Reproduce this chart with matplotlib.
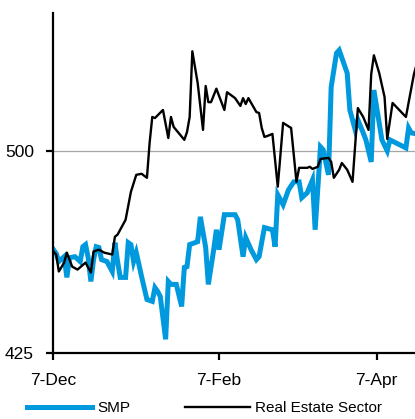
import matplotlib
matplotlib.use("Agg")
import matplotlib.pyplot as plt
import matplotlib.dates as mdates
from matplotlib.lines import Line2D
import numpy as np
import datetime as dt

plt.rcParams['font.family'] = ['Liberation Sans', 'DejaVu Sans']

start = dt.date(2018, 12, 7)

smp_days = [0, 1, 2, 4, 5, 6, 8, 10, 11, 12, 13, 14, 15, 16, 17, 18, 20, 22, 23, 24,
            25, 27, 28, 29, 30, 31, 32, 33, 35, 37, 38, 39, 40, 42, 43, 44, 46, 48, 49, 50,
            51, 53, 54, 55, 57, 58, 60, 61, 62, 64, 68, 69, 71, 72, 74, 76, 77, 79, 82, 83,
            84, 86, 88, 90, 92, 93, 95, 97, 98, 100, 101, 103, 104, 106, 107, 110, 111, 113, 114, 116,
            117, 119, 120, 123, 125, 126, 132, 133, 134, 136]
smp_vals = [463.2, 461.8, 458.8, 460.6, 452.9, 460.2, 460.6, 458.8, 464.3, 465.1,
            460.2, 451.4, 459.5, 464.3, 464.0, 459.5, 458.8, 455.1, 465.8, 458.8,
            452.9, 452.9, 465.8, 465.1, 458.8, 462.1, 457.7, 453.2, 444.7, 444.0,
            449.1, 447.7, 445.8, 429.9, 451.4, 450.3, 450.3, 442.1, 456.6, 456.9,
            465.1, 465.8, 466.2, 475.4, 464.0, 450.3, 463.2, 470.6, 463.2, 476.2,
            476.2, 474.3, 460.6, 467.7, 463.2, 459.5, 460.6, 471.4, 470.6, 464.3,
            483.6, 479.9, 485.4, 488.4, 488.4, 482.5, 484.3, 489.1, 470.6, 501.4,
            500.3, 491.0, 523.6, 536.2, 537.3, 528.8, 515.1, 507.7, 511.4, 506.6,
            504.0, 495.8, 522.5, 504.0, 499.9, 504.0, 501.0, 508.4, 506.6, 506.2]

re_days = [0, 1, 2, 4, 5, 7, 9, 12, 14, 15, 17, 19, 22, 23, 24, 27, 29, 31, 33, 35,
           36, 37, 38, 41, 43, 44, 45, 49, 50, 51, 52, 54, 56, 57, 58, 59, 61, 64, 65, 68,
           70, 71, 72, 73, 76, 77, 78, 79, 80, 82, 84, 86, 89, 91, 92, 95, 96, 97, 99, 100,
           103, 104, 105, 107, 108, 110, 112, 114, 116, 118, 119, 120, 122, 124, 125, 127, 132, 135, 136]
re_vals = [462.5, 461.4, 455.1, 458.4, 462.1, 456.9, 455.8, 458.4, 454.7, 462.5,
           463.2, 462.1, 461.4, 468.0, 468.8, 474.3, 484.7, 491.0, 491.4, 489.9,
           502.9, 512.5, 512.1, 515.1, 504.7, 512.5, 508.8, 504.0, 506.9, 512.5,
           536.9, 525.1, 507.7, 524.0, 518.0, 518.0, 523.0, 515.1, 521.7, 519.5,
           516.6, 519.5, 517.3, 519.5, 514.3, 514.0, 508.4, 505.1, 505.4, 506.2,
           486.6, 510.3, 508.4, 488.4, 493.6, 493.6, 494.0, 493.2, 494.0, 496.9,
           497.3, 495.8, 489.9, 492.9, 495.4, 492.9, 488.4, 515.8, 512.5, 507.7,
           528.4, 535.4, 528.8, 519.9, 504.3, 517.7, 512.5, 528.4, 532.0]

tick_dates = [dt.date(2018, 12, 7), dt.date(2019, 2, 7), dt.date(2019, 4, 7)]
y_ticks = [425, 500]

smp_x = [start + dt.timedelta(days=d) for d in smp_days]
re_x = [start + dt.timedelta(days=d) for d in re_days]

BLUE = '#0099DD'

fig = plt.figure(figsize=(4.15, 4.19), dpi=100)
ax = fig.add_axes([0.1289, 0.1587, 0.8711, 0.8095])

ax.axhline(500, color='#A6A6A6', lw=0.9, zorder=1)
ax.plot(smp_x, smp_vals, color=BLUE, lw=3.6, solid_joinstyle='miter', zorder=2)
ax.plot(re_x, re_vals, color='black', lw=1.7, zorder=3)

x0 = mdates.date2num(start)
ax.set_xlim(x0, x0 + 135.4)
ax.set_ylim(425, 551)

ax.set_xticks([mdates.date2num(d) for d in tick_dates])
ax.xaxis.set_major_formatter(mdates.DateFormatter('%-d-%b'))
ax.set_yticks(y_ticks)

for s in ['top', 'right']:
    ax.spines[s].set_visible(False)
for s in ['left', 'bottom']:
    ax.spines[s].set_linewidth(1.6)
    ax.spines[s].set_color('black')

ax.tick_params(axis='both', direction='out', length=5, width=1.6, labelsize=12.5, colors='black')
ax.tick_params(axis='x', pad=10)
ax.tick_params(axis='y', pad=9)

handles = [Line2D([], [], color=BLUE, lw=3.6), Line2D([], [], color='black', lw=1.7)]
fig.legend(handles, ['SMP', 'Real Estate Sector'], loc='center', bbox_to_anchor=(0.493, 0.026),
           ncol=2, frameon=False, fontsize=11, handlelength=4.25, handletextpad=0.35,
           columnspacing=3.6, borderpad=0, borderaxespad=0)

fig.savefig('out.png', dpi=100)
